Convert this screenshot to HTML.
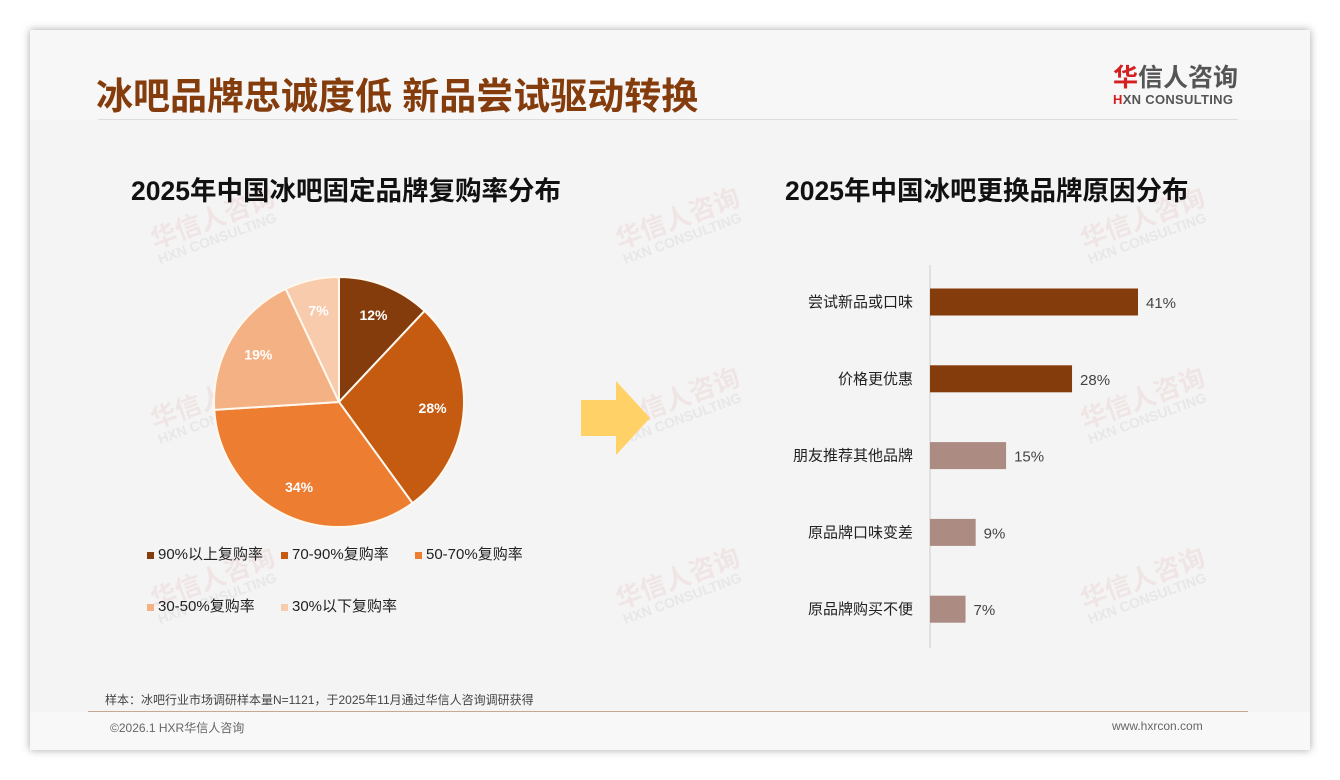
<!DOCTYPE html>
<html><head><meta charset="utf-8"><style>
body{margin:0;width:1340px;height:780px;background:#fff;position:relative;overflow:hidden;font-family:"Liberation Sans","Noto Sans CJK SC",sans-serif}
.card{position:absolute;left:30px;top:30px;width:1280px;height:720px;background:#f4f4f4;box-shadow:0 0 8px rgba(0,0,0,.35)}
.abs{position:absolute;white-space:nowrap}
.wm{position:absolute;color:rgba(200,60,60,.08);font-size:26px;font-weight:bold;transform:rotate(-20deg);line-height:1}
.wm small{display:block;font-size:14px;color:rgba(120,120,120,.1)}
</style></head><body>
<div class="card">
 <div class="abs" style="left:0;top:0;width:1280px;height:90px;background:#f7f7f7"></div>
 <div class="abs" style="left:66px;top:36px;font-size:37px;font-weight:bold;color:#843c0c">冰吧品牌忠诚度低 新品尝试驱动转换</div>
 <div class="abs" style="left:68px;top:89px;width:1140px;height:1px;background:#ddd"></div>
 <div class="abs" style="left:1083px;top:34px;font-size:25px;font-weight:bold;color:#555;line-height:28px"><span style="color:#d42020">华</span>信人咨询<div style="font-size:13px;line-height:16px;letter-spacing:.3px"><span style="color:#d42020">H</span>XN CONSULTING</div></div>

 <div class="wm" style="left:120px;top:175px">华信人咨询<small>HXN CONSULTING</small></div>
 <div class="wm" style="left:585px;top:175px">华信人咨询<small>HXN CONSULTING</small></div>
 <div class="wm" style="left:1050px;top:175px">华信人咨询<small>HXN CONSULTING</small></div>
 <div class="wm" style="left:120px;top:355px">华信人咨询<small>HXN CONSULTING</small></div>
 <div class="wm" style="left:585px;top:355px">华信人咨询<small>HXN CONSULTING</small></div>
 <div class="wm" style="left:1050px;top:355px">华信人咨询<small>HXN CONSULTING</small></div>
 <div class="wm" style="left:120px;top:535px">华信人咨询<small>HXN CONSULTING</small></div>
 <div class="wm" style="left:585px;top:535px">华信人咨询<small>HXN CONSULTING</small></div>
 <div class="wm" style="left:1050px;top:535px">华信人咨询<small>HXN CONSULTING</small></div>

 <div class="abs" style="left:101px;top:139px;font-size:26.5px;font-weight:bold;color:#111">2025年中国冰吧固定品牌复购率分布</div>
 <div class="abs" style="left:755px;top:139px;font-size:26.5px;font-weight:bold;color:#111">2025年中国冰吧更换品牌原因分布</div>

 <svg class="abs" style="left:550px;top:350px" width="72" height="78"><polygon points="1,20 36,20 36,1 70,38 36,75 36,56 1,56" fill="#ffd166"/></svg>

 <div class="abs" style="left:75px;top:661px;font-size:12px;color:#444">样本：冰吧行业市场调研样本量N=1121，于2025年11月通过华信人咨询调研获得</div>
 <div class="abs" style="left:0;top:682px;width:1280px;height:38px;background:#f8f8f8"></div>
 <div class="abs" style="left:58px;top:681px;width:1160px;height:1px;background:#c9a891"></div>
 <div class="abs" style="left:80px;top:689px;font-size:12px;color:#666">©2026.1 HXR华信人咨询</div>
 <div class="abs" style="left:1082px;top:689px;font-size:12px;color:#666">www.hxrcon.com</div>
</div>

<svg id="pie" class="abs" style="left:0;top:0" width="1340" height="780"></svg>
<svg id="bar" class="abs" style="left:0;top:0" width="1340" height="780"></svg>
<div id="legend"></div>

<script>
const pieLabels=["90%以上复购率","70-90%复购率","50-70%复购率","30-50%复购率","30%以下复购率"];
const pieValues=[12,28,34,19,7];
const pieColors=["#843c0c","#c55a11","#ed7d31","#f4b183","#f8cbad"];
const barCats=["尝试新品或口味","价格更优惠","朋友推荐其他品牌","原品牌口味变差","原品牌购买不便"];
const barValues=[41,28,15,9,7];
const barColors=["#843c0c","#843c0c","#ab8b82","#ab8b82","#ab8b82"];
const NS="http://www.w3.org/2000/svg";
function mk(p,t,a){const e=document.createElementNS(NS,t);for(const k in a)e.setAttribute(k,a[k]);p.appendChild(e);return e;}
const pie=document.getElementById('pie');
const cx=339,cy=402,R=125;
const tot=pieValues.reduce((a,b)=>a+b,0);
let ang=-Math.PI/2;
pieValues.forEach((v,i)=>{
 const a0=ang,a1=ang+v/tot*2*Math.PI;ang=a1;
 const large=(a1-a0)>Math.PI?1:0;
 const p=mk(pie,'path',{d:`M${cx},${cy}L${cx+R*Math.cos(a0)},${cy+R*Math.sin(a0)}A${R},${R} 0 ${large} 1 ${cx+R*Math.cos(a1)},${cy+R*Math.sin(a1)}Z`,fill:pieColors[i],stroke:"#fff8ef","stroke-width":2});
 
 
 const m=(a0+a1)/2,r=R*0.75;
 const t=mk(pie,'text',{x:cx+r*Math.cos(m),y:cy+r*Math.sin(m)+5,"text-anchor":"middle","font-size":14,"font-weight":"bold",fill:"#fff"});
 t.textContent=v+"%";
 
 
});
const lg=document.getElementById('legend');
const lpos=[[147,553],[281,553],[415,553],[147,605],[281,605]];
pieLabels.forEach((l,i)=>{
 const d=document.createElement('div');
 d.className='abs';d.style.left=lpos[i][0]+'px';d.style.top=(lpos[i][1]-10)+'px';d.style.fontSize='15px';d.style.color='#222';
 d.innerHTML=`<span style="display:inline-block;width:7px;height:7px;background:${pieColors[i]};margin-right:4px;vertical-align:middle"></span>${l}`;
 
 
 lg.appendChild(d);
});
const bar=document.getElementById('bar');
const x0=930,scale=208/41,yTop=302,step=76.8,bh=27;
const ax=mk(bar,'line',{x1:x0,y1:265,x2:x0,y2:648,stroke:"#ccc","stroke-width":1});


barCats.forEach((c,i)=>{
 const y=yTop+i*step;
 const r=mk(bar,'rect',{x:x0,y:y-bh/2,width:barValues[i]*scale,height:bh,fill:barColors[i]});
 
 
 const t=mk(bar,'text',{x:x0-17,y:y+5,"text-anchor":"end","font-size":15,fill:"#222"});
 t.textContent=c;
 
 
 const v=mk(bar,'text',{x:x0+barValues[i]*scale+8,y:y+6,"font-size":15,fill:"#444"});
 v.textContent=barValues[i]+"%";
 
 
});
</script>
</body></html>
